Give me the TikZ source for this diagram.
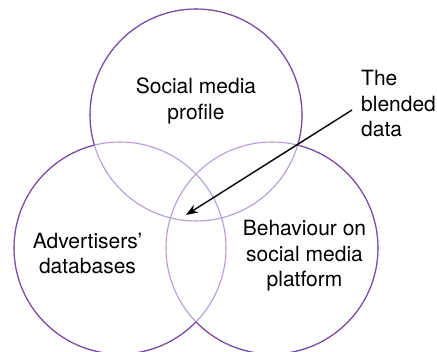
\documentclass[tikz,border=0pt]{standalone}
\usepackage{fontspec}
\setmainfont{TeX Gyre Heros}
\usetikzlibrary{arrows.meta}

\definecolor{ringdark}{HTML}{7448A6}
\definecolor{ringlight}{HTML}{B59DD4}

\begin{document}
\begin{tikzpicture}[x=1pt,y=-1pt,>={Stealth[length=12pt,width=9pt]},
  ring/.style={line width=1.1pt},
  label/.style={inner sep=0pt,align=center,font=\fontsize{21}{25.5}\selectfont}]

\useasboundingbox (0,0) rectangle (437,352);

% centres of the three sets
  \coordinate (top)   at (196,115);
  \coordinate (left)  at (120,248);
  \coordinate (right) at (272,248);

% every ring in the light shade first
  \foreach \c in {top,left,right}
    \draw[ring,ringlight] (\c) circle[radius=106pt];

% then the parts of each ring lying outside the other two
  \foreach \c/\a/\b in {top/left/right,left/top/right,right/top/left}{
    \begin{scope}[even odd rule]
      \clip (-10,-10) rectangle (447,362) (\a) circle[radius=106pt];
      \clip (-10,-10) rectangle (447,362) (\b) circle[radius=106pt];
      \draw[ring,ringdark] (\c) circle[radius=106pt];
    \end{scope}
  }

% the set labels
  \node[label] (profile)   at (196,101)   {Social media\\profile};
  \node[label] (adverts)   at (87.5,253.5) {Advertisers'\\databases};
  \node[label] (behaviour) at (304.5,256) {Behaviour on\\social media\\platform};
  \node[label,align=left,anchor=west] (blend) at (361,104) {The\\blended\\data};

% the pointer into the middle
  \coordinate (blendtail) at (352,110);
  \coordinate (blendtip)  at (186,215);
  \draw[->,line width=1.4pt] (blendtail) -- (blendtip);

\end{tikzpicture}
\end{document}
